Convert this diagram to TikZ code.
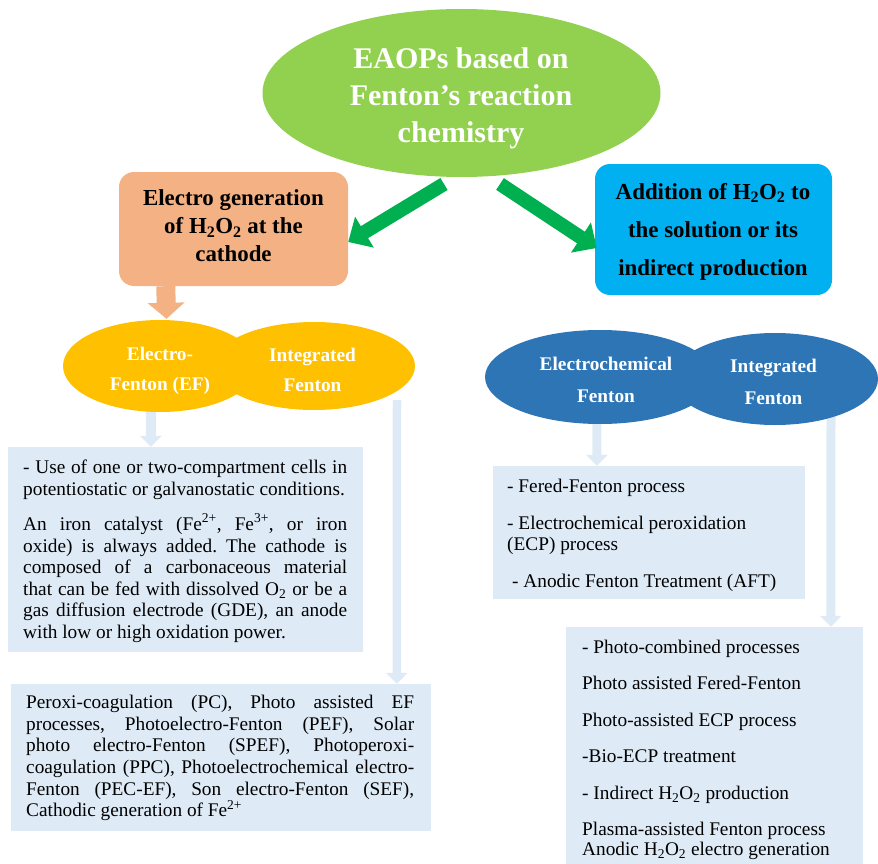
\documentclass[tikz,border=0pt]{standalone}
\usepackage{fontspec}
\setmainfont{Liberation Serif}
\usetikzlibrary{arrows.meta,calc,shapes.geometric,backgrounds}
\definecolor{titlegreen}{HTML}{92D050}
\definecolor{arrowgreen}{HTML}{00B050}
\definecolor{boxorange}{HTML}{F4B183}
\definecolor{boxcyan}{HTML}{00B0F0}
\definecolor{ellyellow}{HTML}{FFC000}
\definecolor{ellblue}{HTML}{2E75B6}
\definecolor{lightbox}{HTML}{DEEBF7}
\newcommand{\normsp}{\frenchspacing\spaceskip=0pt\xspaceskip=0pt\relax}
\begin{document}
\begin{tikzpicture}[x=1pt,y=-1pt,
  body/.style={inner sep=0pt, anchor=north west, align=left, text width=#1, font=\fontsize{19.3}{21.6}\selectfont},
  elltext/.style={inner sep=0pt, anchor=north, align=center, text=white, font=\bfseries\fontsize{19.3}{#1}\selectfont},
  lbox/.style={rectangle, fill=lightbox, draw=none, inner sep=0pt},
  ell/.style={ellipse, draw=none, inner sep=0pt},
  headbox/.style={rectangle, rounded corners=15pt, draw=none, inner sep=0pt},
  greenarrow/.style={draw=arrowgreen, fill=arrowgreen, line width=14pt, -{Triangle[length=19pt,width=35pt]}},
  orarrow/.style={draw=boxorange, fill=boxorange, line width=19pt, -{Triangle[length=16pt,width=36pt]}},
  lightarrow/.style={draw=lightbox, fill=lightbox, line width=9pt, -{Triangle[length=11pt,width=21pt]}}
]
\useasboundingbox (0,0) rectangle (878,864);

% light text boxes
\node[lbox, minimum width=355pt, minimum height=205pt] (lb1) at (185.5,549.5) {};
\node[lbox, minimum width=420pt, minimum height=147pt] (lb2) at (221,757.5) {};
\node[lbox, minimum width=312pt, minimum height=133pt] (rb1) at (649,532.5) {};
\node[lbox, minimum width=297pt, minimum height=237pt] (rb2) at (714.5,745.5) {};

% ellipses
\node[ell, fill=ellyellow, minimum width=194pt, minimum height=92pt] (e1) at (160,366) {};
\node[ell, fill=ellyellow, minimum width=202pt, minimum height=88pt] (e2) at (314,366) {};
\node[ell, fill=ellblue, minimum width=230pt, minimum height=94pt] (e3) at (600,377) {};
\node[ell, fill=ellblue, minimum width=206pt, minimum height=92pt] (e4) at (775,379) {};

% title ellipse
\node[ell, fill=titlegreen, minimum width=398pt, minimum height=168pt] (title) at (461.5,93) {};
\node[inner sep=0pt, anchor=north, align=center, text=white, font=\bfseries\fontsize{30}{37.2}\selectfont] (titlet) at (461,42.3)
  {\normsp\strut EAOPs based on\\Fenton’s reaction\\chemistry};

% head boxes
\node[headbox, fill=boxorange, minimum width=229pt, minimum height=114pt] (orange) at (233.5,229) {};
\node[inner sep=0pt, anchor=north, align=center, font=\bfseries\fontsize{22.9}{28}\selectfont] (oranget) at (233.5,185.8)
  {\normsp\strut Electro generation\\of H\textsubscript{2}O\textsubscript{2} at the\\cathode};
\node[headbox, fill=boxcyan, minimum width=237pt, minimum height=131pt] (cyan) at (713.5,229.5) {};
\node[inner sep=0pt, anchor=north, align=center, font=\bfseries\fontsize{22.9}{38.3}\selectfont] (cyant) at (713,172)
  {\normsp\strut Addition of H\textsubscript{2}O\textsubscript{2} to\\the solution or its\\indirect production};

% ellipse labels
\node[elltext=30.5] (e1t) at (160,338.6) {\normsp\strut Electro-\\Fenton (EF)};
\node[elltext=30] (e2t) at (312.5,340.7) {\normsp\strut Integrated\\Fenton};
\node[elltext=32.7] (e3t) at (606,347.1) {\normsp\strut Electrochemical\\Fenton};
\node[elltext=31.7] (e4t) at (773.5,350.1) {\normsp\strut Integrated\\Fenton};

% arrows
\coordinate (gs1) at (444,184);
\coordinate (gs2) at (500,184);
\draw[greenarrow] (gs1) -- ($(orange.east)+(0,13)$);
\draw[greenarrow] (gs2) -- ($(cyan.west)+(2,18.5)$);
\draw[orarrow] ($(orange.south west)+(47,0)$) -- ($(e1.north)+(6.5,-1)$);

\begin{scope}[on background layer]
\draw[lightarrow, line width=10pt] ($(e1.south)+(-9,-8)$) -- ($(lb1.north west)+(143,0)$);
\draw[lightarrow, line width=8.5pt] ($(e2.south)+(83,-10)$) -- ($(lb2.north west)+(386,0)$);
\draw[lightarrow] ($(e3.south)+(-3,-6)$) -- ($(rb1.north west)+(104,0)$);
\draw[lightarrow] ($(e4.south)+(56,-10)$) -- ($(rb2.north west)+(265,0)$);
\end{scope}

% texts
\node[body=330pt] (lb1t) at (23,458.5) {\normsp\noindent\strut\makebox[324pt][s]{- Use of one or two-compartment cells in}\\
\makebox[324pt][l]{potentiostatic or galvanostatic conditions.}\\[13.5pt]
\makebox[324pt][s]{An iron catalyst (Fe\textsuperscript{2+}, Fe\textsuperscript{3+}, or iron}\\
\makebox[324pt][s]{oxide) is always added. The cathode is}\\
\makebox[324pt][s]{composed of a carbonaceous material}\\
\makebox[324pt][s]{that can be fed with dissolved O\textsubscript{2} or be a}\\
\makebox[324pt][s]{gas diffusion electrode (GDE), an anode}\\
\makebox[324pt][l]{with low or high oxidation power.}};

\node[body=395pt] (lb2t) at (26,693.4) {\normsp\noindent\strut\makebox[388pt][s]{Peroxi-coagulation (PC), Photo assisted EF}\\
\makebox[388pt][s]{processes, Photoelectro-Fenton (PEF), Solar}\\
\makebox[388pt][s]{photo electro-Fenton (SPEF), Photoperoxi-}\\
\makebox[388pt][s]{coagulation (PPC), Photoelectrochemical electro-}\\
\makebox[388pt][s]{Fenton (PEC-EF), Son electro-Fenton (SEF),}\\
\makebox[388pt][l]{Cathodic generation of Fe\textsuperscript{2+}}};

\node[body=295pt] (rb1t) at (507,477.6) {\normsp\noindent\strut - Fered-Fenton process\\[14.5pt]
- Electrochemical peroxidation\\
(ECP) process\\[15pt]
\hspace*{5pt}- Anodic Fenton Treatment (AFT)};

\node[body=280pt] (rb2t) at (582,637.8) {\normsp\noindent\strut - Photo-combined processes\\[15pt]
Photo assisted Fered-Fenton\\[15pt]
Photo-assisted ECP process\\[14.5pt]
-Bio-ECP treatment\\[15.5pt]
- Indirect H\textsubscript{2}O\textsubscript{2} production\\[14.5pt]
Plasma-assisted Fenton process\\[-1.5pt]
Anodic H\textsubscript{2}O\textsubscript{2} electro generation};
\end{tikzpicture}
\end{document}
